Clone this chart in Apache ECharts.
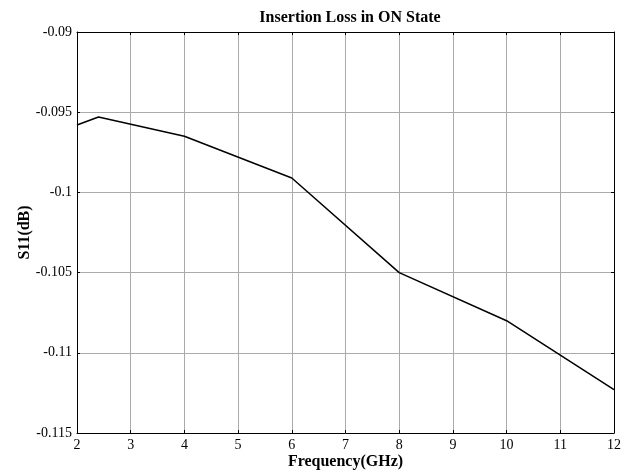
<!DOCTYPE html>
<html>
<head>
<meta charset="utf-8">
<script src="https://cdn.jsdelivr.net/npm/echarts@6/dist/echarts.min.js"></script>
<style>
html,body{margin:0;padding:0;background:#fff;}
#chart{width:638px;height:473px;}
</style>
</head>
<body>
<div id="chart"></div>
<script>
const freq = [2, 2.4, 4, 6, 8, 10, 12];
const s11 = [-0.0958, -0.0953, -0.0965, -0.0991, -0.1050, -0.1080, -0.1123];
const yTickLabels = ['-0.115', '-0.11', '-0.105', '-0.1', '-0.095', '-0.09'];
const yTickValues = [-0.115, -0.11, -0.105, -0.1, -0.095, -0.09];
const xTicks = [2, 3, 4, 5, 6, 7, 8, 9, 10, 11, 12];

const font = 'Liberation Serif, Times New Roman, serif';
function yLabel(v) {
  let best = 0, bd = Infinity;
  yTickValues.forEach((t, i) => { const d = Math.abs(t - v); if (d < bd) { bd = d; best = i; } });
  return yTickLabels[best];
}
const chart = echarts.init(document.getElementById('chart'), null, {renderer: 'canvas'});
const common = {
  axisLine: {show: true, onZero: false, lineStyle: {color: '#000', width: 1}},
  axisTick: {show: true, inside: true, length: 3, lineStyle: {color: '#000'}},
};
chart.setOption({
  animation: false,
  backgroundColor: '#fff',
  title: {
    text: 'Insertion Loss in ON State',
    left: 345, top: 5, textAlign: 'center',
    textStyle: {fontFamily: font, fontWeight: 'bold', fontSize: 16, color: '#000'}
  },
  grid: {left: 77, right: 24, top: 32, bottom: 40, containLabel: false, outerBoundsMode: 'none'},
  xAxis: [{
    type: 'value', min: 2, max: 12, interval: 1, position: 'bottom',
    name: 'Frequency(GHz)', nameLocation: 'middle', nameGap: 21, nameMoveOverlap: false,
    nameTextStyle: {fontFamily: font, fontWeight: 'bold', fontSize: 16, color: '#000'},
    ...common,
    axisLabel: {fontFamily: font, fontSize: 14, color: '#000', margin: 5,
      formatter: v => String(xTicks[Math.round(v) - xTicks[0]])},
    splitLine: {show: true, lineStyle: {color: '#aaa', width: 1}}
  }, {
    type: 'value', min: 2, max: 12, interval: 1, position: 'top',
    ...common,
    axisLabel: {show: false}, splitLine: {show: false}
  }],
  yAxis: [{
    type: 'value', min: -0.115, max: -0.09, interval: 0.005, position: 'left',
    name: 'S11(dB)', nameLocation: 'middle', nameGap: 44, nameRotate: 90, nameMoveOverlap: false,
    nameTextStyle: {fontFamily: font, fontWeight: 'bold', fontSize: 16, color: '#000'},
    ...common,
    axisLabel: {fontFamily: font, fontSize: 14, color: '#000', margin: 5, formatter: yLabel},
    splitLine: {show: true, lineStyle: {color: '#aaa', width: 1}}
  }, {
    type: 'value', min: -0.115, max: -0.09, interval: 0.005, position: 'right',
    ...common,
    axisLabel: {show: false}, splitLine: {show: false}
  }],
  series: [{
    type: 'line',
    data: freq.map((f, i) => [f, s11[i]]),
    showSymbol: false,
    lineStyle: {color: '#000', width: 1.5},
    itemStyle: {color: '#000'}
  }]
});
</script>
</body>
</html>
